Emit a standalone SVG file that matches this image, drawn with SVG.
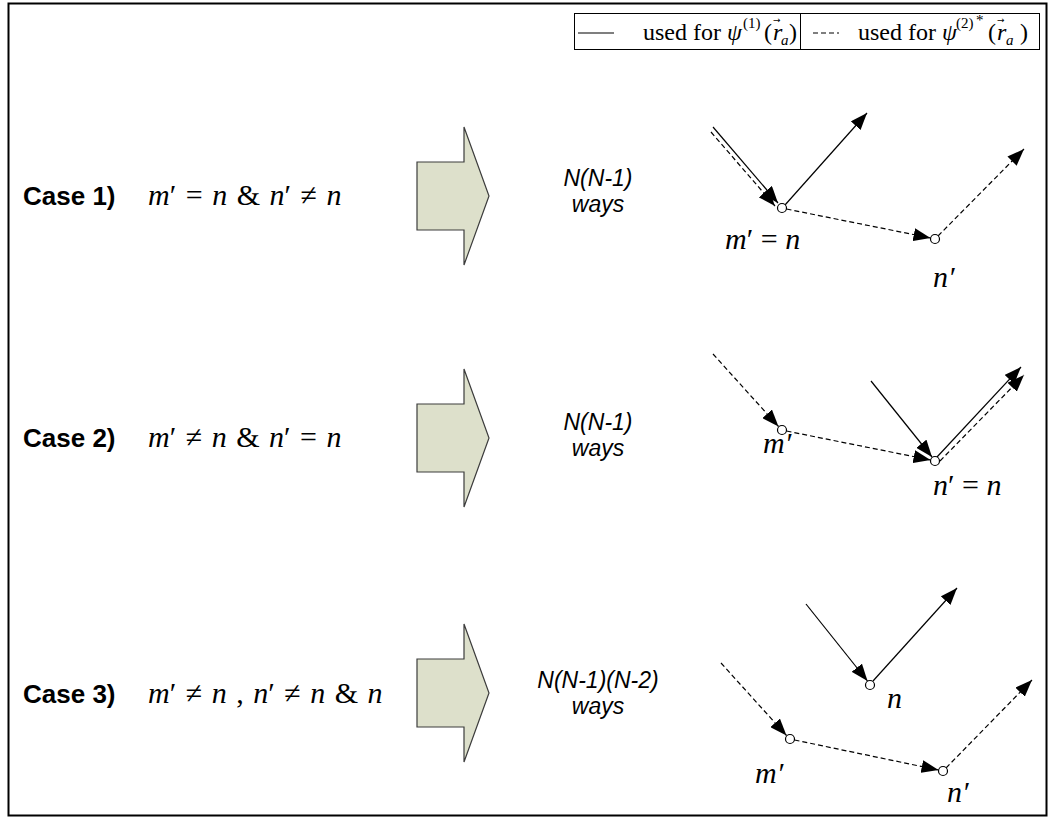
<svg xmlns="http://www.w3.org/2000/svg" width="1049" height="819" viewBox="0 0 1049 819">
  <defs>
    <marker id="head" markerUnits="userSpaceOnUse" markerWidth="18" markerHeight="13" refX="17" refY="6.5" orient="auto">
      <path d="M0,0 L17,6.5 L0,13 z" fill="#000"/>
    </marker>
    <style>
      .frame { fill: #fff; stroke: #000; stroke-width: 2; }
      .legend { fill: none; stroke: #000; stroke-width: 1; }
      .solid { fill: none; stroke: #000; stroke-width: 1.2; }
      .dash { fill: none; stroke: #000; stroke-width: 1.2; stroke-dasharray: 5 3; }
      .arrowed { marker-end: url(#head); }
      .node { fill: #fff; stroke: #000; stroke-width: 1.2; }
      .bigarrow { fill: #dde0cb; stroke: #3c3c3c; stroke-width: 1.2; }
      .case { font-family: "Liberation Sans", Arial, sans-serif; font-weight: bold; font-size: 26px; fill: #000; }
      .math { font-family: "Liberation Serif", "Times New Roman", serif; font-size: 30px; fill: #000; }
      .wide { word-spacing: 2px; }
      .it { font-style: italic; }
      .count { font-family: "Liberation Sans", Arial, sans-serif; font-style: italic; font-size: 23px; fill: #000; text-anchor: middle; }
      .leg { font-family: "Liberation Serif", "Times New Roman", serif; font-size: 24px; fill: #000; }
      .sup { font-family: "Liberation Serif", "Times New Roman", serif; font-size: 15px; fill: #000; }
      .vec { font-family: "DejaVu Sans", sans-serif; font-size: 9px; fill: #000; }
    </style>
  </defs>

  <rect class="frame" x="8.5" y="3.5" width="1038" height="812"/>

  <!-- legend -->
  <g id="legend">
    <rect class="legend" x="574.5" y="13.5" width="465" height="36"/>
    <line class="legend" x1="800.5" y1="13.5" x2="800.5" y2="49.5"/>
    <line class="solid" x1="578" y1="33" x2="614" y2="33"/>
    <text class="leg" x="643" y="40">used for <tspan class="it">ψ</tspan></text>
    <text class="sup" x="743" y="28">(1)</text>
    <text class="leg" x="764" y="40">(</text>
    <text class="leg it" x="773" y="40">r</text>
    <text class="vec" x="773" y="23">→</text>
    <text class="sup it" x="781" y="45">a</text>
    <text class="leg" x="789" y="40">)</text>
    <line class="dash" x1="813" y1="33" x2="839" y2="33" stroke-dasharray="3 2" stroke-width="1"/>
    <text class="leg" x="858" y="40">used for <tspan class="it">ψ</tspan></text>
    <text class="sup" x="956" y="28">(2)</text>
    <text class="sup" x="976" y="25" font-size="12">*</text>
    <text class="leg" x="988" y="40">(</text>
    <text class="leg it" x="997" y="40">r</text>
    <text class="vec" x="997" y="23">→</text>
    <text class="sup it" x="1006" y="45">a</text>
    <text class="leg" x="1020" y="40">)</text>
  </g>

  <!-- case 1 -->
  <g id="case1">
    <text class="case" x="23" y="205">Case 1)</text>
    <text class="math wide" x="148" y="205"><tspan class="it">m</tspan>′ = <tspan class="it">n</tspan> &amp; <tspan class="it">n</tspan>′ ≠ <tspan class="it">n</tspan></text>
    <polygon class="bigarrow" points="417,162 464,162 464,127 489,196 464,265 464,230 417,230"/>
    <text class="count" x="598" y="186">N(N-1)</text>
    <text class="count" x="598" y="212">ways</text>
  </g>

  <!-- case 2 -->
  <g id="case2">
    <text class="case" x="23" y="447">Case 2)</text>
    <text class="math wide" x="148" y="447"><tspan class="it">m</tspan>′ ≠ <tspan class="it">n</tspan> &amp; <tspan class="it">n</tspan>′ = <tspan class="it">n</tspan></text>
    <polygon class="bigarrow" points="417,404 464,404 464,369 489,438 464,507 464,472 417,472"/>
    <text class="count" x="598" y="430">N(N-1)</text>
    <text class="count" x="598" y="456">ways</text>
  </g>

  <!-- case 3 -->
  <g id="case3">
    <text class="case" x="23" y="703">Case 3)</text>
    <text class="math wide" x="148" y="703"><tspan class="it">m</tspan>′ ≠ <tspan class="it">n</tspan> , <tspan class="it">n</tspan>′ ≠ <tspan class="it">n</tspan> &amp; <tspan class="it">n</tspan></text>
    <polygon class="bigarrow" points="417,659 464,659 464,624 489,693 464,762 464,727 417,727"/>
    <text class="count" x="598" y="688">N(N-1)(N-2)</text>
    <text class="count" x="598" y="714">ways</text>
  </g>

  <!-- scattering paths -->
  <g id="connectors">
    <!-- case 1 -->
    <line class="solid arrowed" x1="713" y1="127" x2="778" y2="203"/>
    <line class="dash arrowed" x1="711" y1="132" x2="775" y2="206"/>
    <line class="solid arrowed" x1="785" y1="205" x2="867" y2="113"/>
    <line class="dash arrowed" x1="786.5" y1="209" x2="930.5" y2="238"/>
    <line class="dash arrowed" x1="938" y1="236" x2="1024" y2="149"/>
    <!-- case 2 -->
    <line class="dash arrowed" x1="713" y1="354" x2="778.5" y2="426.5"/>
    <line class="dash arrowed" x1="786.5" y1="431" x2="930.5" y2="460"/>
    <line class="solid arrowed" x1="871" y1="381" x2="932" y2="457"/>
    <line class="solid arrowed" x1="937" y1="457" x2="1021" y2="367"/>
    <line class="dash arrowed" x1="940" y1="461" x2="1024" y2="375"/>
    <!-- case 3 -->
    <line class="solid arrowed" x1="806" y1="604" x2="867.5" y2="681"/>
    <line class="solid arrowed" x1="873" y1="681" x2="957" y2="588"/>
    <line class="dash arrowed" x1="721" y1="663" x2="786.5" y2="735.5"/>
    <line class="dash arrowed" x1="794.5" y1="740" x2="938.5" y2="770"/>
    <line class="dash arrowed" x1="946" y1="768" x2="1032" y2="680"/>
  </g>

  <!-- scattering sites -->
  <g id="sites1">
    <circle class="node" cx="782" cy="208" r="4.5"/>
    <circle class="node" cx="935" cy="239" r="4.5"/>
    <text class="math" x="725" y="249"><tspan class="it">m</tspan>′ = <tspan class="it">n</tspan></text>
    <text class="math it" x="933" y="287">n′</text>
  </g>
  <g id="sites2">
    <circle class="node" cx="782" cy="430" r="4.5"/>
    <circle class="node" cx="935" cy="461" r="4.5"/>
    <text class="math it" x="763" y="453">m′</text>
    <text class="math" x="933" y="495"><tspan class="it">n</tspan>′ = <tspan class="it">n</tspan></text>
  </g>
  <g id="sites3">
    <circle class="node" cx="870" cy="685" r="4.5"/>
    <circle class="node" cx="790" cy="739" r="4.5"/>
    <circle class="node" cx="943" cy="771" r="4.5"/>
    <text class="math it" x="887" y="708">n</text>
    <text class="math it" x="755" y="783">m′</text>
    <text class="math it" x="947" y="802">n′</text>
  </g>
</svg>
